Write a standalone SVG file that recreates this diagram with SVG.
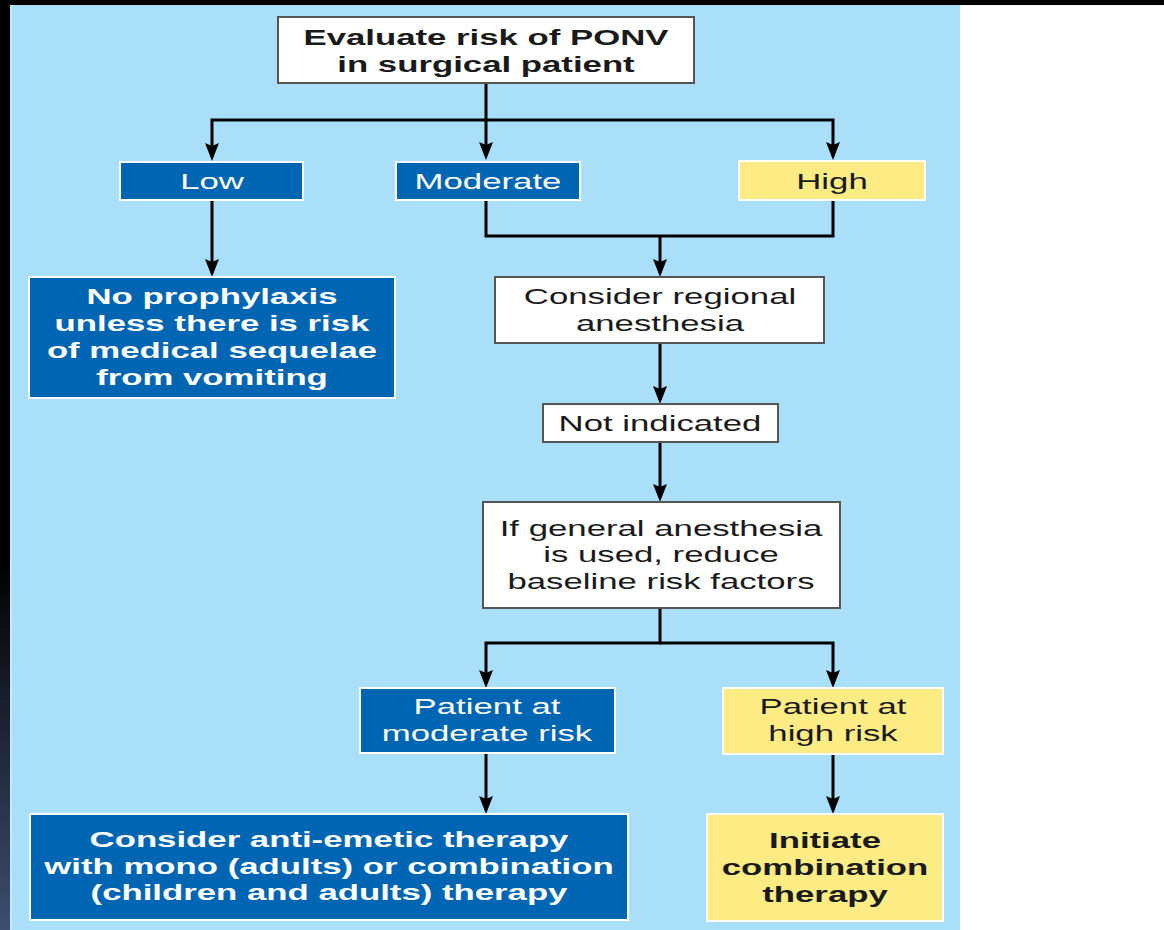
<svg xmlns="http://www.w3.org/2000/svg" width="1164" height="930" viewBox="0 0 1164 930">
<defs>
<linearGradient id="strip" x1="0" y1="0" x2="0" y2="1">
<stop offset="0" stop-color="#000"/>
<stop offset="0.6" stop-color="#000"/>
<stop offset="1" stop-color="#3e4e70"/>
</linearGradient>
<marker id="arr" viewBox="0 0 18 14" refX="14" refY="7" markerWidth="18" markerHeight="14" markerUnits="userSpaceOnUse" orient="auto">
<path d="M0,0 L18,7 L0,14 L3,7 z" fill="#000"/>
</marker>
<style>
.w{fill:#fff;stroke:#555;stroke-width:2}
.b{fill:#0065b2;stroke:#fff;stroke-width:2}
.y{fill:#fdec84;stroke:#fff;stroke-width:2}
.t{font-family:"Liberation Sans",Arial,sans-serif;font-size:22px;text-anchor:middle}
.dk{fill:#1a1a1a}
.wt{fill:#fff}
.bd{font-weight:bold}
.c{fill:none;stroke:#000;stroke-width:3}
</style>
</defs>
<rect x="0" y="0" width="1164" height="930" fill="#fff"/>
<rect x="0" y="0" width="1164" height="5" fill="#000"/>
<rect x="0" y="0" width="10" height="930" fill="url(#strip)"/>
<rect x="10" y="5" width="950" height="925" fill="#a9dff9"/>
<rect x="10" y="5" width="2" height="925" fill="#c6eafb"/>

<g id="connectors">
<path class="c" d="M486 83 V156" marker-end="url(#arr)"/>
<path class="c" d="M486 120 H212 V157" marker-end="url(#arr)"/>
<path class="c" d="M486 120 H833 V156" marker-end="url(#arr)"/>
<path class="c" d="M212 200 V273" marker-end="url(#arr)"/>
<path class="c" d="M486 200 V236 H833 V200"/>
<path class="c" d="M660 236 V273" marker-end="url(#arr)"/>
<path class="c" d="M660 343 V400" marker-end="url(#arr)"/>
<path class="c" d="M660 442 V498" marker-end="url(#arr)"/>
<path class="c" d="M660 608 V643 H486 V684" marker-end="url(#arr)"/>
<path class="c" d="M660 643 H833 V684" marker-end="url(#arr)"/>
<path class="c" d="M486 753 V810" marker-end="url(#arr)"/>
<path class="c" d="M833 754 V810" marker-end="url(#arr)"/>
</g>

<g id="evaluate">
<rect class="w" x="278" y="17" width="416" height="66"/>
<g transform="translate(486 0) scale(1.58 1)">
<text class="t dk bd" x="0" y="45">Evaluate risk of PONV</text>
<text class="t dk bd" x="0" y="72">in surgical patient</text>
</g>
</g>

<g id="low">
<rect class="b" x="120" y="162" width="183" height="38"/>
<g transform="translate(212 0) scale(1.58 1)"><text class="t wt" x="0" y="189">Low</text></g>
</g>

<g id="moderate">
<rect class="b" x="396" y="162" width="184" height="38"/>
<g transform="translate(488 0) scale(1.58 1)"><text class="t wt" x="0" y="189">Moderate</text></g>
</g>

<g id="high">
<rect class="y" x="739" y="161" width="186" height="39"/>
<g transform="translate(832 0) scale(1.58 1)"><text class="t dk" x="0" y="189">High</text></g>
</g>

<g id="no-prophylaxis">
<rect class="b" x="29" y="277" width="366" height="121"/>
<g transform="translate(212 0) scale(1.58 1)">
<text class="t wt bd" x="0" y="304">No prophylaxis</text>
<text class="t wt bd" x="0" y="331">unless there is risk</text>
<text class="t wt bd" x="0" y="358">of medical sequelae</text>
<text class="t wt bd" x="0" y="385">from vomiting</text>
</g>
</g>

<g id="consider-regional">
<rect class="w" x="495" y="277" width="329" height="66"/>
<g transform="translate(660 0) scale(1.58 1)">
<text class="t dk" x="0" y="304">Consider regional</text>
<text class="t dk" x="0" y="331">anesthesia</text>
</g>
</g>

<g id="not-indicated">
<rect class="w" x="543" y="404" width="235" height="38"/>
<g transform="translate(660 0) scale(1.58 1)"><text class="t dk" x="0" y="431">Not indicated</text></g>
</g>

<g id="if-general">
<rect class="w" x="483" y="502" width="357" height="106"/>
<g transform="translate(661 0) scale(1.58 1)">
<text class="t dk" x="0" y="536">If general anesthesia</text>
<text class="t dk" x="0" y="562">is used, reduce</text>
<text class="t dk" x="0" y="589">baseline risk factors</text>
</g>
</g>

<g id="patient-moderate">
<rect class="b" x="360" y="688" width="255" height="65"/>
<g transform="translate(487 0) scale(1.58 1)">
<text class="t wt" x="0" y="714">Patient at</text>
<text class="t wt" x="0" y="741">moderate risk</text>
</g>
</g>

<g id="patient-high">
<rect class="y" x="723" y="688" width="220" height="66"/>
<g transform="translate(833 0) scale(1.58 1)">
<text class="t dk" x="0" y="714">Patient at</text>
<text class="t dk" x="0" y="741">high risk</text>
</g>
</g>

<g id="anti-emetic">
<rect class="b" x="30" y="814" width="598" height="106"/>
<g transform="translate(329 0) scale(1.58 1)">
<text class="t wt bd" x="0" y="847">Consider anti-emetic therapy</text>
<text class="t wt bd" x="0" y="874">with mono (adults) or combination</text>
<text class="t wt bd" x="0" y="900">(children and adults) therapy</text>
</g>
</g>

<g id="initiate">
<rect class="y" x="707" y="814" width="236" height="107"/>
<g transform="translate(825 0) scale(1.58 1)">
<text class="t dk bd" x="0" y="848">Initiate</text>
<text class="t dk bd" x="0" y="875">combination</text>
<text class="t dk bd" x="0" y="902">therapy</text>
</g>
</g>
</svg>
